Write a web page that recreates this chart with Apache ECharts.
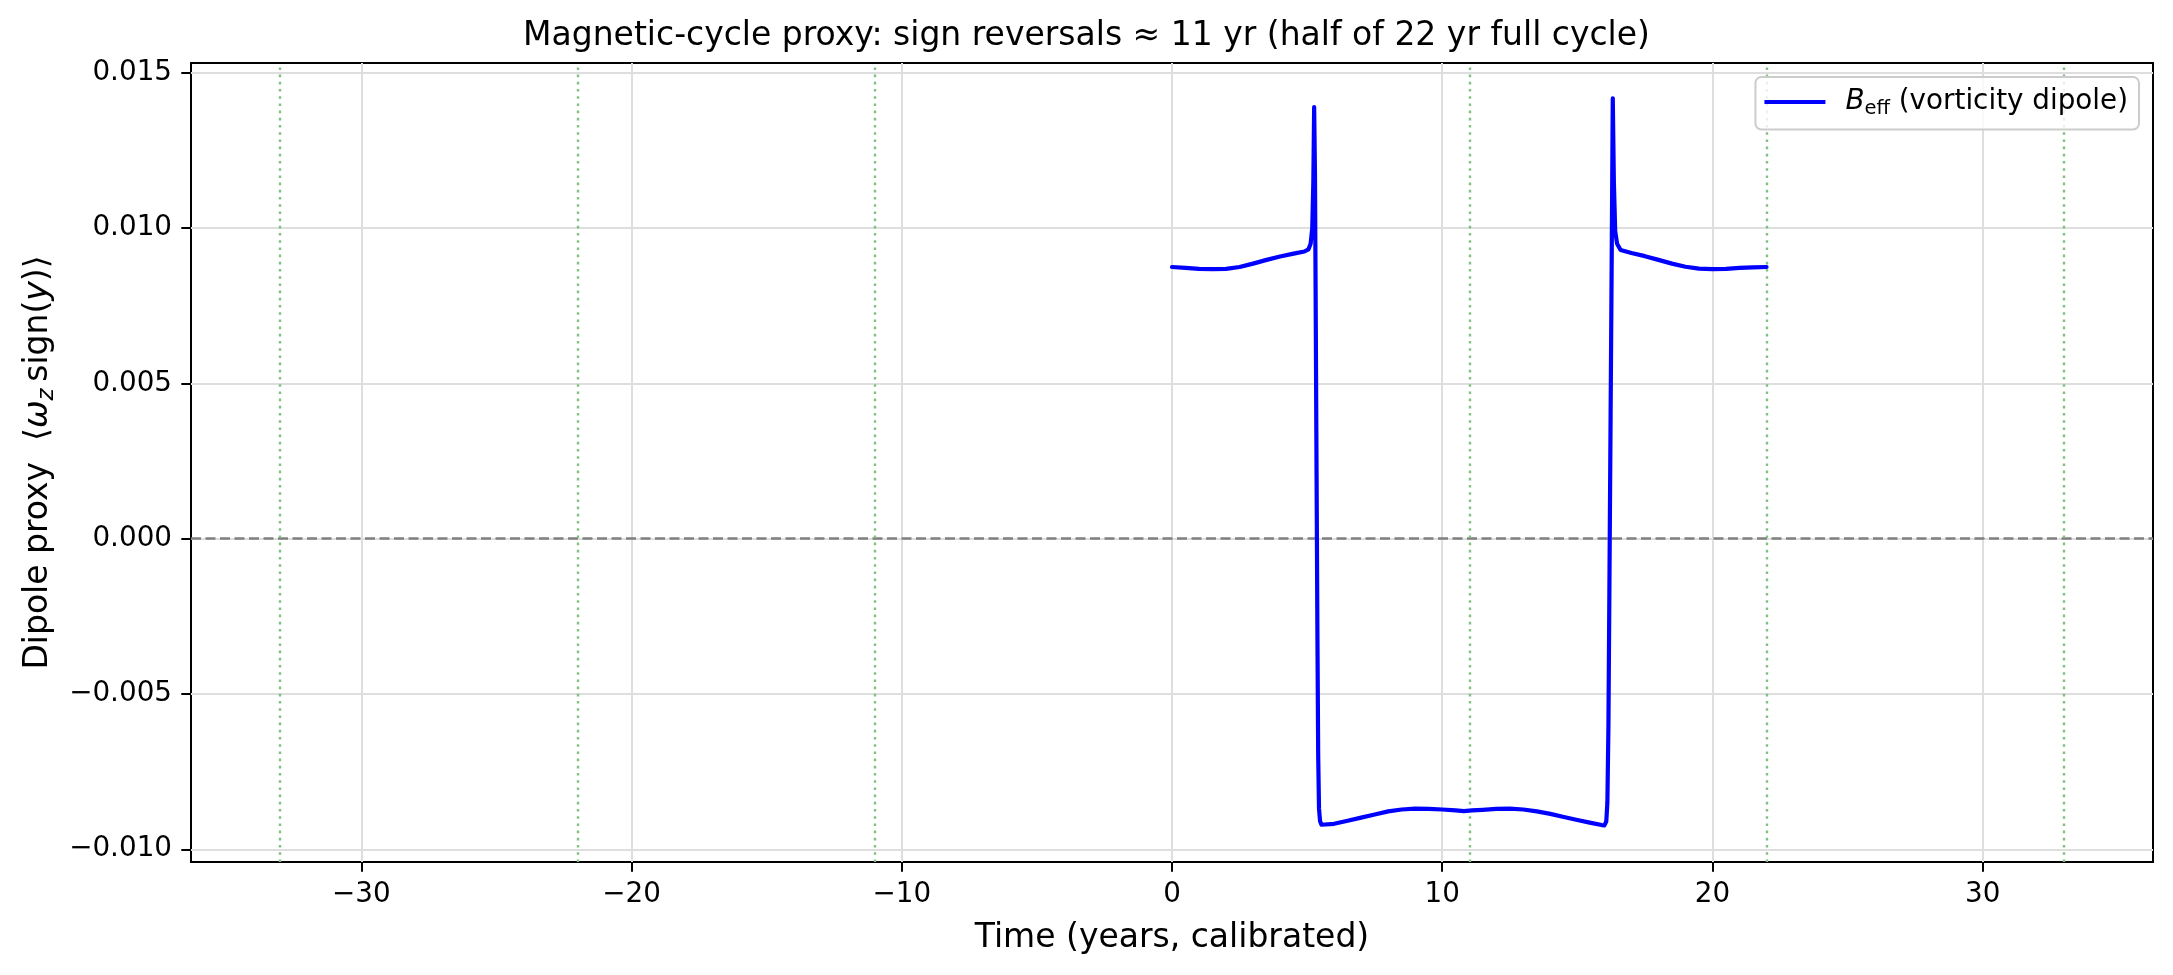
<!DOCTYPE html>
<html>
<head>
<meta charset="utf-8">
<title>Magnetic-cycle proxy</title>
<script src="https://cdn.jsdelivr.net/npm/echarts@6/dist/echarts.min.js"></script>
<style>
  html, body { margin: 0; padding: 0; background: #fff; }
  #chart { width: 2173px; height: 975px; }
</style>
</head>
<body>
<div id="chart"></div>
<script>
// time axis (years, calibrated)
var tYears = [
  0, 0.5, 1.0, 1.5, 2.0, 2.5, 3.0, 3.5, 4.0, 4.5,
  4.9, 5.05, 5.13, 5.19, 5.23, 5.26, 5.29, 5.32, 5.35, 5.38,
  5.41, 5.44, 5.48, 5.53, 5.6, 6.0, 6.5, 7.0, 7.5, 8.0,
  8.5, 9.0, 9.5, 10.0, 10.5, 10.8, 11.1, 11.5, 12.0, 12.5,
  13.0, 13.5, 14.0, 14.5, 15.0, 15.5, 15.9, 16.0, 16.07, 16.11,
  16.15, 16.19, 16.23, 16.27, 16.31, 16.35, 16.40, 16.47, 16.6, 17.0,
  17.5, 18.0, 18.5, 19.0, 19.5, 20.0, 20.5, 21.0, 21.5, 22.0
]
// dipole proxy <omega_z sign(y)>
var dipole = [
  0.00875, 0.00872, 0.00869, 0.00868, 0.00869, 0.00875, 0.00886, 0.00898, 0.00909, 0.00918,
  0.00925, 0.00932, 0.0095, 0.0100, 0.0115, 0.0139, 0.0118, 0.0070, 0.0020, -0.0030,
  -0.0070, -0.0087, -0.0091, -0.00921, -0.00925, -0.00918, -0.00908, -0.00898, -0.00888, -0.00878,
  -0.00872, -0.00869, -0.0087, -0.00872, -0.00875, -0.00877, -0.00875, -0.00873, -0.0087, -0.00869,
  -0.00872, -0.00878, -0.00886, -0.00896, -0.00906, -0.00915, -0.00922, -0.00923, -0.0091, -0.0085,
  -0.0060, -0.0010, 0.0040, 0.0090, 0.01418, 0.0115, 0.0099, 0.0095, 0.0093, 0.0092,
  0.0091, 0.00898, 0.00886, 0.00876, 0.0087, 0.00868, 0.00869, 0.00872, 0.00874, 0.00875
]
var xTicks = [-30, -20, -10, 0, 10, 20, 30]
var yTicks = [-0.010, -0.005, 0.000, 0.005, 0.010, 0.015]
// reversal markers every 11 yr
var reversalLines = [-33, -22, -11, 11, 22, 33]

var FONT = 'DejaVu Sans'

function minus (s) {
  return String(s).replace('-', '\u2212')
}

var seriesData = []
for (var i = 0; i < tYears.length; i++) {
  seriesData.push([tYears[i], dipole[i]])
}

var markData = [{
  yAxis: 0,
  lineStyle: { color: '#808080', type: [10, 4.5], width: 2.6 }
}]
for (var j = 0; j < reversalLines.length; j++) {
  markData.push({
    xAxis: reversalLines[j],
    lineStyle: { color: '#80c080', type: [2.6, 4.6], width: 2.4 }
  })
}

var chart = echarts.init(document.getElementById('chart'), null, { renderer: 'canvas' })
var option = {
  animation: false,
  backgroundColor: '#fff',
  textStyle: { fontFamily: FONT, color: '#000' },
  title: {
    text: 'Magnetic-cycle proxy: sign reversals \u2248 11 yr (half of 22 yr full cycle)',
    left: 'center',
    top: 15,
    textStyle: { fontFamily: FONT, fontSize: 33, lineHeight: 33, fontWeight: 'normal', color: '#000' }
  },
  grid: {
    left: 191, right: 20, top: 63, bottom: 113,
    show: true,
    borderColor: '#000',
    borderWidth: 2,
    outerBoundsMode: 'none'
  },
  legend: {
    right: 34,
    top: 77,
    icon: 'rect',
    itemWidth: 61,
    itemHeight: 4,
    padding: [11, 11, 11, 9],
    backgroundColor: 'rgba(255,255,255,0.8)',
    borderColor: '#cccccc',
    borderWidth: 2,
    borderRadius: 6,
    formatter: function () {
      return '{g|}{b|B}{s|eff}{t| (vorticity dipole)}'
    },
    textStyle: {
      fontFamily: FONT,
      fontSize: 27.8,
      color: '#000',
      rich: {
        g: { width: 15 },
        b: { fontFamily: FONT, fontSize: 27.8, fontStyle: 'italic', lineHeight: 33, color: '#000' },
        s: { fontFamily: FONT, fontSize: 19.5, lineHeight: 20, verticalAlign: 'bottom', color: '#000' },
        t: { fontFamily: FONT, fontSize: 27.8, lineHeight: 33, color: '#000' }
      }
    }
  },
  xAxis: {
    type: 'value',
    min: -36.3,
    max: 36.3,
    name: 'Time (years, calibrated)',
    nameLocation: 'middle',
    nameGap: 60,
    nameTextStyle: { fontFamily: FONT, fontSize: 33, lineHeight: 33, color: '#000' },
    axisLine: { show: false, onZero: false },
    axisTick: { show: true, length: 9.7, lineStyle: { color: '#000', width: 2 }, customValues: xTicks },
    axisLabel: {
      margin: 19,
      fontFamily: FONT,
      fontSize: 27.8,
      color: '#000',
      customValues: xTicks,
      formatter: function (v) { return minus(v) }
    },
    splitLine: { show: true, lineStyle: { color: '#dedede', width: 2 } }
  },
  yAxis: {
    type: 'value',
    min: -0.01041,
    max: 0.01532,
    name: 'Dipole proxy  \u27e8{i|\u03c9}{s|z}\u2009sign({i|y})\u27e9',
    nameLocation: 'middle',
    nameRotate: 90,
    nameGap: 128,
    nameTextStyle: {
      fontFamily: FONT,
      fontSize: 33,
      lineHeight: 40,
      color: '#000',
      rich: {
        i: { fontFamily: FONT, fontSize: 33, fontStyle: 'italic', lineHeight: 40, color: '#000' },
        s: { fontFamily: FONT, fontSize: 23, fontStyle: 'italic', lineHeight: 24, verticalAlign: 'bottom', color: '#000' }
      }
    },
    axisLine: { show: false, onZero: false },
    axisTick: { show: true, length: 9.7, lineStyle: { color: '#000', width: 2 }, customValues: yTicks },
    axisLabel: {
      margin: 19,
      fontFamily: FONT,
      fontSize: 27.8,
      color: '#000',
      customValues: yTicks,
      formatter: function (v) { return minus(v.toFixed(3)) }
    },
    splitLine: { show: true, lineStyle: { color: '#dedede', width: 2 } }
  },
  series: [{
    name: 'B_eff',
    type: 'line',
    data: seriesData,
    showSymbol: false,
    symbol: 'none',
    color: '#0000ff',
    lineStyle: { color: '#0000ff', width: 4.2, join: 'round', cap: 'round' },
    z: 3,
    markLine: {
      silent: true,
      symbol: ['none', 'none'],
      label: { show: false },
      z: 2,
      data: markData
    }
  }]
}
chart.setOption(option)
</script>
</body>
</html>
